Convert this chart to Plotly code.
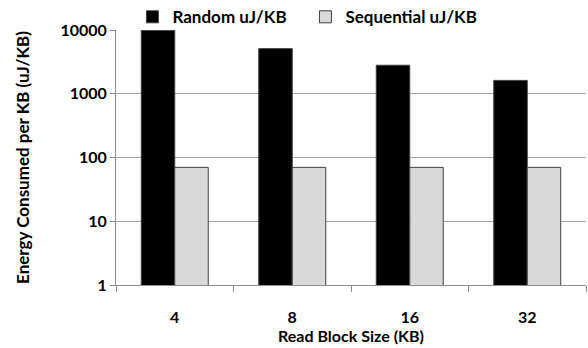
import plotly.graph_objects as go

block_sizes = ["4", "8", "16", "32"]
random_uj = [9800, 5100, 2800, 1620]
sequential_uj = [70, 70, 70, 70]
y_ticks = [1, 10, 100, 1000, 10000]

font_family = "Lato, 'Open Sans', sans-serif"

fig = go.Figure()
fig.add_trace(go.Bar(
    x=block_sizes, y=random_uj, name="<b>Random uJ/KB</b>",
    marker=dict(color="#000000", line=dict(color="#404040", width=1)),
))
fig.add_trace(go.Bar(
    x=block_sizes, y=sequential_uj, name="<b>Sequential uJ/KB</b>",
    marker=dict(color="#d9d9d9", line=dict(color="#404040", width=1)),
))

fig.update_layout(
    width=588, height=348,
    margin=dict(l=116, r=2, t=30, b=63, autoexpand=False),
    paper_bgcolor="white", plot_bgcolor="white",
    barmode="group", bargap=0.43, bargroupgap=0,
    font=dict(family=font_family, size=16, color="#000000"),
    legend=dict(
        orientation="h", x=0.035, y=1.05, xanchor="left", yanchor="middle",
        font=dict(size=17, family=font_family),
        itemwidth=30, traceorder="normal", entrywidth=128,
        bgcolor="rgba(0,0,0,0)",
    ),
    xaxis=dict(
        title=dict(text="<b>Read Block Size (KB)</b>", standoff=2,
                   font=dict(size=16)),
        tickfont=dict(size=16),
        tickvals=block_sizes, ticktext=[f"<b>{b}</b>" for b in block_sizes],
        ticklabelstandoff=18,
        showline=True, linecolor="#8c8c8c", linewidth=1,
        ticks="outside", tickson="boundaries", ticklen=6, tickcolor="#8c8c8c",
        showgrid=False,
    ),
    yaxis=dict(
        type="log", range=[0, 4],
        tickvals=y_ticks, ticktext=[f"<b>{v}</b>" for v in y_ticks],
        tickfont=dict(size=16),
        title=dict(text="<b>Energy Consumed per KB (uJ/KB)</b>", standoff=26,
                   font=dict(size=17)),
        showline=True, linecolor="#8c8c8c", linewidth=1,
        showgrid=True, gridcolor="#a6a6a6", gridwidth=1,
        ticks="outside", ticklen=5, tickcolor="#8c8c8c",
        zeroline=False,
    ),
)

fig.write_html("out.html")
